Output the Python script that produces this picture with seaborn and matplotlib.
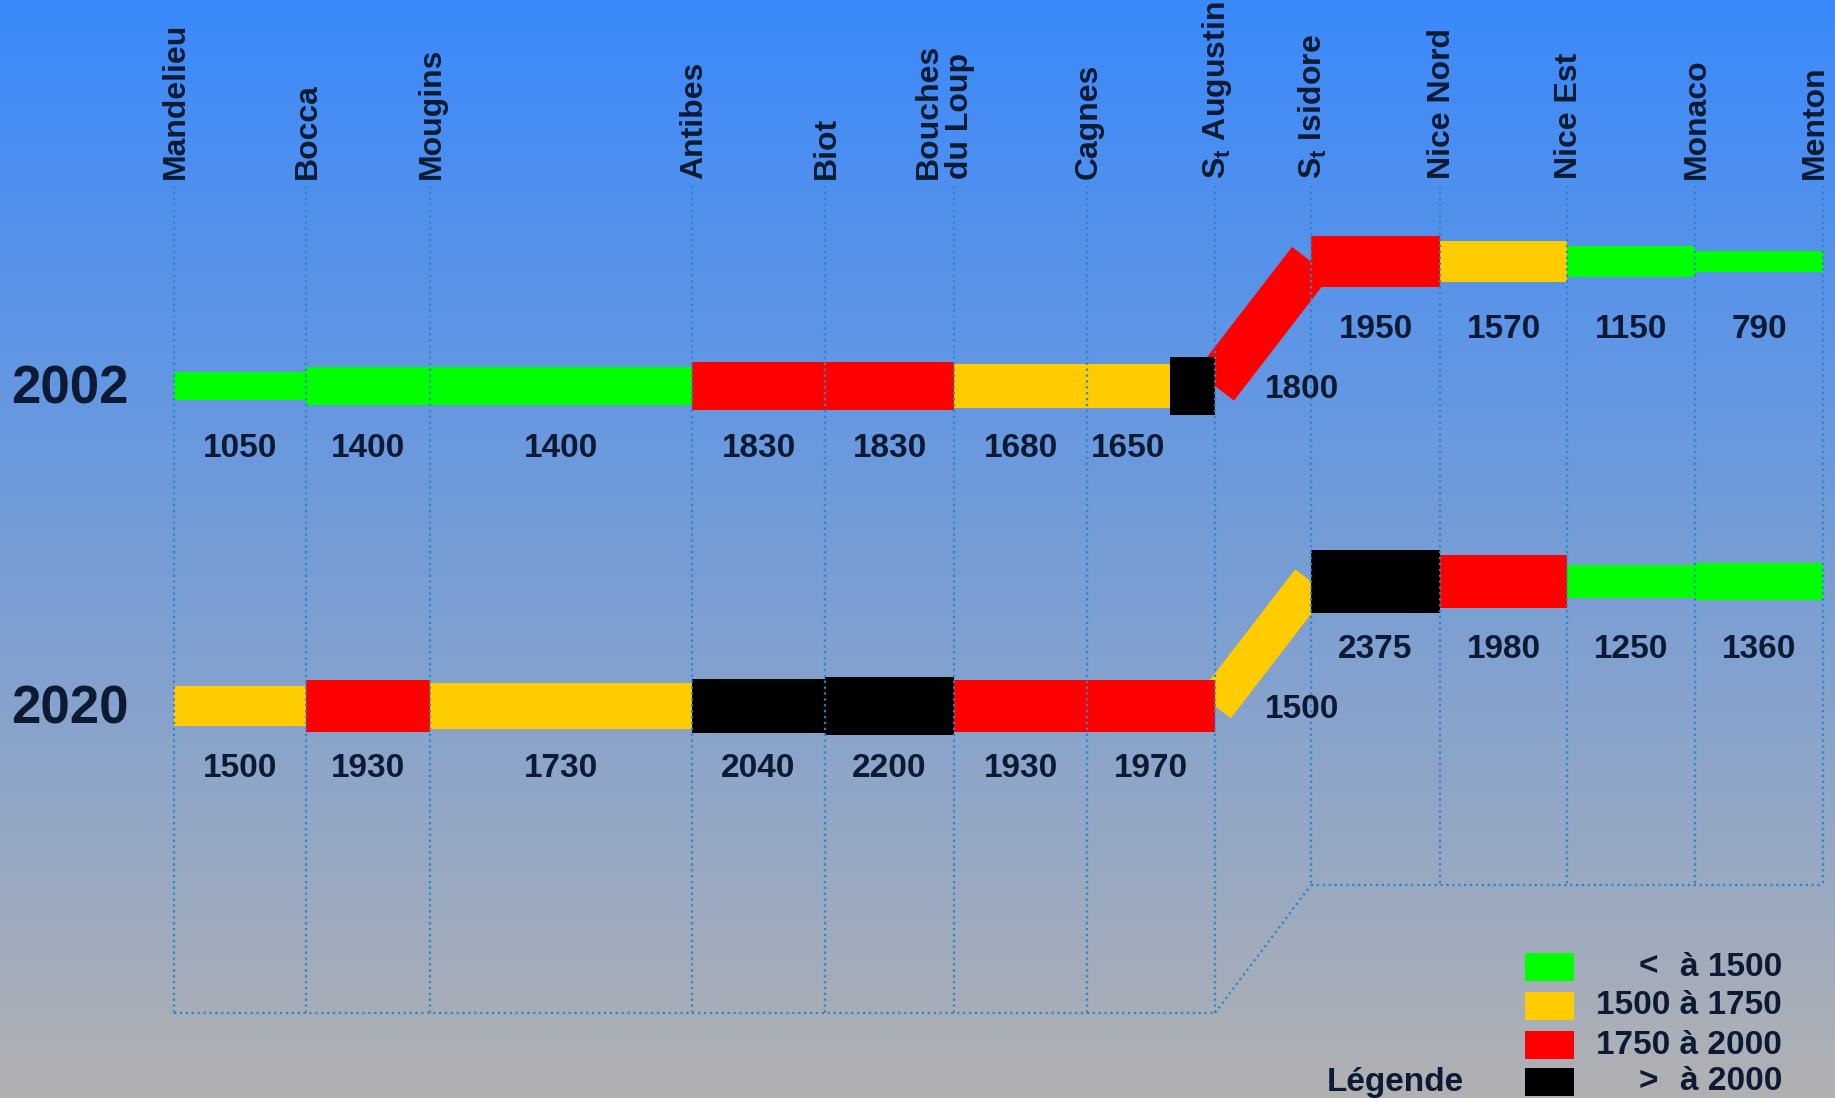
import numpy as np
import matplotlib
matplotlib.use("Agg")
import matplotlib.pyplot as plt
from matplotlib.patches import Rectangle
import seaborn as sns

# --- data -------------------------------------------------------------
stations = ["Mandelieu", "Bocca", "Mougins", "Antibes", "Biot", "Bouches\ndu Loup",
            "Cagnes", r"S$_\mathbf{t}$ Augustin", r"S$_\mathbf{t}$ Isidore",
            "Nice Nord", "Nice Est", "Monaco", "Menton"]
years = ["2002", "2020"]
# traffic per section (station i -> station i+1); section 7 is the ramp St Augustin -> St Isidore
traffic_2002 = [1050, 1400, 1400, 1830, 1830, 1680, 1650, 1800, 1950, 1570, 1150, 790]
traffic_2020 = [1500, 1930, 1730, 2040, 2200, 1930, 1970, 1500, 2375, 1980, 1250, 1360]
junction_2002 = 2200  # short black block just before St Augustin (2002)
class_bins = [1500, 1750, 2000]
class_colors = ["#00ff00", "#ffcc00", "#ff0000", "#000000"]
legend_sign = ["<", "", "", ">"]
legend_text = ["à 1500", "1500 à 1750", "1750 à 2000", "à 2000"]

# --- layout (pixel units of the 1835x1098 canvas) ----------------------
W, H = 1835, 1098
station_x = [174, 306, 430, 692, 825, 954, 1087, 1215, 1311, 1440, 1567, 1695, 1823]
row_y = {"2002": (386, 261.5), "2020": (706, 581.5)}  # (west part, east part)
k = 0.0266          # thickness in px per vehicle
ramp = 7            # index of the ramp section
label_top = 179
frame_low, frame_high = 1013, 885
txt = "#0c1b33"
dot_col = "#2a88c8"

sns.set_theme(style="white")
plt.rcParams["font.family"] = ["Liberation Sans", "DejaVu Sans"]
plt.rcParams["mathtext.fontset"] = "custom"
plt.rcParams["mathtext.bf"] = "Liberation Sans:bold"
plt.rcParams["mathtext.rm"] = "Liberation Sans:bold"


def colour(v):
    return class_colors[int(np.searchsorted(class_bins, v, side="right"))]


fig = plt.figure(figsize=(W / 100, H / 100), dpi=100)
ax = fig.add_axes([0, 0, 1, 1])
ax.set_xlim(0, W)
ax.set_ylim(H, 0)
ax.axis("off")

# background gradient blue -> grey
top = np.array([58, 137, 251]) / 255
bot = np.array([177, 177, 179]) / 255
t = np.linspace(0, 1, 256)[:, None]
grad = top[None, :] * (1 - t) + bot[None, :] * t
ax.imshow(grad[:, None, :], extent=[0, W, H, 0], aspect="auto", zorder=0)

# station labels
for i, name in enumerate(stations):
    dx = -10 if "\n" in name else 2
    if i == len(stations) - 1:
        dx = -8  # keep Menton inside the canvas
    ax.text(station_x[i] + dx, label_top, name, rotation=90, ha="center", va="bottom",
            fontsize=23, fontweight="bold", color=txt, multialignment="left",
            linespacing=1.05, zorder=6)

# dotted frame
for i, x in enumerate(station_x):
    yb = frame_low if i <= ramp else frame_high
    ax.plot([x, x], [186, yb], ls=":", lw=1.6, color=dot_col, zorder=5)
ax.plot([station_x[0], station_x[ramp]], [frame_low, frame_low], ls=":", lw=1.6, color=dot_col, zorder=5)
ax.plot([station_x[ramp], station_x[ramp + 1]], [frame_low, frame_high], ls=":", lw=1.6, color=dot_col, zorder=5)
ax.plot([station_x[ramp + 1], station_x[-1]], [frame_high, frame_high], ls=":", lw=1.6, color=dot_col, zorder=5)

# traffic bands
for year, vals in zip(years, [traffic_2002, traffic_2020]):
    y_w, y_e = row_y[year]
    for i, v in enumerate(vals):
        x0, x1 = station_x[i], station_x[i + 1]
        if i == ramp:
            ax.plot([x0, x1], [y_w, y_e], lw=v * k * 0.72, color=colour(v),
                    solid_capstyle="butt", zorder=2)
            ax.text(x0 + 87, y_w + 4, str(v), ha="center", va="center", fontsize=24,
                    fontweight="bold", color=txt, zorder=6)
            continue
        yc = y_w if i < ramp else y_e
        off = 62.5 if i < ramp else 67.5
        if year == "2002" and i == ramp - 1:
            jw = 45
            ax.barh(yc, jw, left=x1 - jw, height=junction_2002 * k,
                    color=colour(junction_2002), linewidth=0, zorder=3)
            x1 = x1 - jw
        ax.barh(yc, x1 - x0, left=x0, height=v * k, color=colour(v), linewidth=0, zorder=3)
        ax.text((x0 + x1) / 2, yc + off, str(v), ha="center", va="center", fontsize=24,
                fontweight="bold", color=txt, zorder=6)
    ax.text(70, y_w + 4, year, ha="center", va="center", fontsize=38, fontweight="bold",
            color=txt, zorder=6)

# legend
leg_y = [967, 1006, 1045, 1082]
for c, s, lab, y in zip(class_colors, legend_sign, legend_text, leg_y):
    ax.add_patch(Rectangle((1525, y - 14), 49, 28, facecolor=c, edgecolor="none", zorder=4))
    ax.text(1782, y, lab, ha="right", va="center", fontsize=24, fontweight="bold", color=txt)
    if s:
        ax.text(1648, y, s, ha="center", va="center", fontsize=24, fontweight="bold", color=txt)
ax.text(1395, leg_y[-1], "Légende", ha="center", va="center", fontsize=24,
        fontweight="bold", color=txt)

fig.savefig("out.png", dpi=100)
